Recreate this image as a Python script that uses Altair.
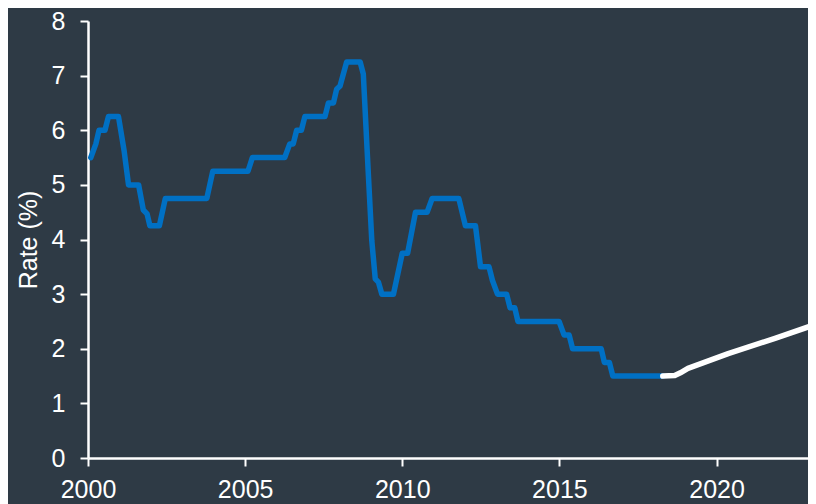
import altair as alt
import pandas as pd

# Historical cash rate (vertices, decimal years)
hist_year = [2000.09, 2000.25, 2000.35, 2000.54, 2000.65, 2000.97, 2001.15, 2001.29,
             2001.61, 2001.76, 2001.88, 2001.97, 2002.27, 2002.46, 2003.78, 2003.97,
             2005.09, 2005.23, 2006.26, 2006.42, 2006.53, 2006.64, 2006.79, 2006.90,
             2007.54, 2007.65, 2007.81, 2007.91, 2008.02, 2008.23, 2008.66, 2008.76,
             2008.92, 2009.03, 2009.14, 2009.24, 2009.35, 2009.72, 2010.00, 2010.17,
             2010.42, 2010.79, 2010.95, 2011.80, 2012.01, 2012.33, 2012.49, 2012.76,
             2012.87, 2013.03, 2013.32, 2013.43, 2013.58, 2013.68, 2014.99, 2015.15,
             2015.31, 2015.42, 2016.33, 2016.43, 2016.59, 2016.70, 2018.29]
hist_rate = [5.50, 5.75, 6.00, 6.00, 6.25, 6.25, 5.62, 5.00,
             5.00, 4.54, 4.47, 4.25, 4.25, 4.75, 4.75, 5.25,
             5.25, 5.50, 5.50, 5.75, 5.75, 6.00, 6.00, 6.25,
             6.25, 6.50, 6.50, 6.75, 6.81, 7.25, 7.25, 7.03,
             5.20, 3.98, 3.28, 3.22, 3.00, 3.00, 3.75, 3.75,
             4.50, 4.50, 4.75, 4.75, 4.25, 4.25, 3.50, 3.50,
             3.25, 3.00, 3.00, 2.75, 2.75, 2.50, 2.50, 2.25,
             2.25, 2.00, 2.00, 1.75, 1.75, 1.50, 1.50]

# Forecast path
fc_year = [2018.29, 2018.67, 2018.85, 2019.09, 2020.37, 2021.86, 2023.17]
fc_rate = [1.50, 1.51, 1.56, 1.64, 1.91, 2.19, 2.45]

x_ticks = [2000, 2005, 2010, 2015, 2020]
y_ticks = [0, 1, 2, 3, 4, 5, 6, 7, 8]

hist = pd.DataFrame({"year": hist_year, "rate": hist_rate})
fc = pd.DataFrame({"year": fc_year, "rate": fc_rate})

FONT = "Liberation Sans"
BG = "#2e3a45"

x_enc = alt.X("year:Q",
              scale=alt.Scale(domain=[2000, 2022.91], nice=False, zero=False),
              axis=alt.Axis(values=x_ticks, format="d", title=None, labelFlush=False))
y_enc = alt.Y("rate:Q",
              scale=alt.Scale(domain=[0, 8], nice=False),
              axis=alt.Axis(values=y_ticks, title="Rate (%)"))

blue = alt.Chart(hist).mark_line(color="#0070c4", strokeWidth=5.5,
                                 strokeCap="round", strokeJoin="round").encode(
    x=x_enc, y=y_enc)
white = alt.Chart(fc).mark_line(color="#ffffff", strokeWidth=5.5, clip=True,
                                strokeCap="round", strokeJoin="round").encode(
    x=x_enc, y=y_enc)

chart = (blue + white).properties(
    width=720, height=437,
    autosize=alt.AutoSizeParams(type="none"),
    padding={"left": 80, "top": 13, "right": 0, "bottom": 48},
    background=BG,
).configure_view(stroke=None).configure_axis(
    grid=False,
    domainColor="#ffffff", domainWidth=2.5,
    tickColor="#ffffff", tickWidth=2, tickSize=8,
    labelColor="#ffffff", labelFont=FONT, labelFontSize=25,
    titleColor="#ffffff", titleFont=FONT, titleFontSize=25, titleFontWeight="normal",
).configure_axisY(labelPadding=15, titlePadding=10).configure_axisX(labelPadding=11)

chart.save("out.html", embed_options={"renderer": "svg", "actions": False})
